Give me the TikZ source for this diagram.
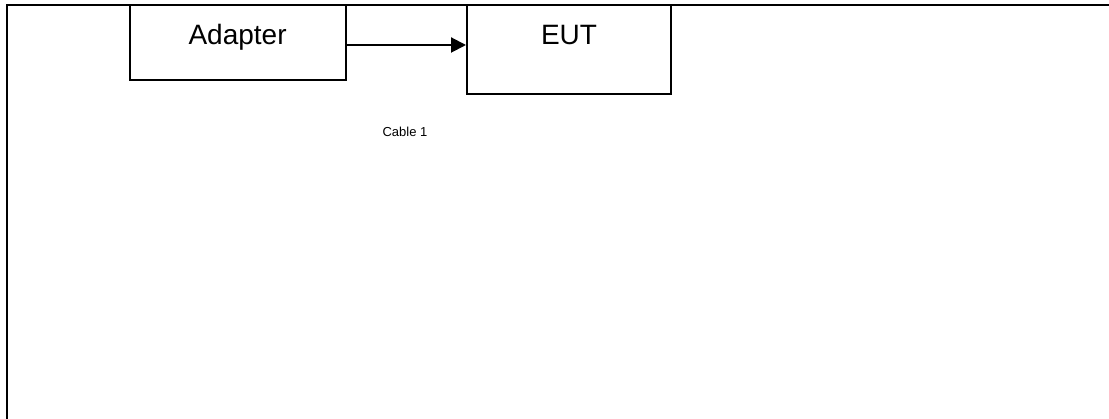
\documentclass[tikz,border=0pt]{standalone}
\usepackage{fontspec}
\setmainfont{Liberation Sans}
\usepackage{tikz}
\usetikzlibrary{arrows.meta}

\begin{document}
\begin{tikzpicture}[x=1pt, y=1pt,
        box/.style={rectangle, draw=black, line width=2pt, text=black,
                    text centered, font=\fontsize{28}{30}\selectfont, inner sep=0pt},
        caption/.style={font=\fontsize{13}{15}\selectfont, inner sep=0pt},
        arrow/.style={-{Triangle[length=15pt, width=15pt]}, line width=2pt}
    ]
        % Picture size
        \useasboundingbox (0,0) rectangle (1109,419);
        
        % Outer frame (cut off at right and bottom)
        \draw[line width=2pt] (6.5,-5) -- (6.5,414) -- (1115,414);
        
        % Main boxes
        \node[box, minimum width=216, minimum height=75, text height=25, text depth=20] (adapter) at (237.6,376.5) {Adapter};
        \node[box, minimum width=204, minimum height=89, text height=20, text depth=29] (eut) at (569,369.5) {EUT};
        
        % Cable arrow
        \draw[arrow] ([yshift=-2.5pt]adapter.east) -- ([yshift=-2.5pt]adapter.east -| eut.west);
        
        % Cable label
        \node[caption] (cable) at (405,286.7) {Cable 1};
        
    \end{tikzpicture}
\end{document}
